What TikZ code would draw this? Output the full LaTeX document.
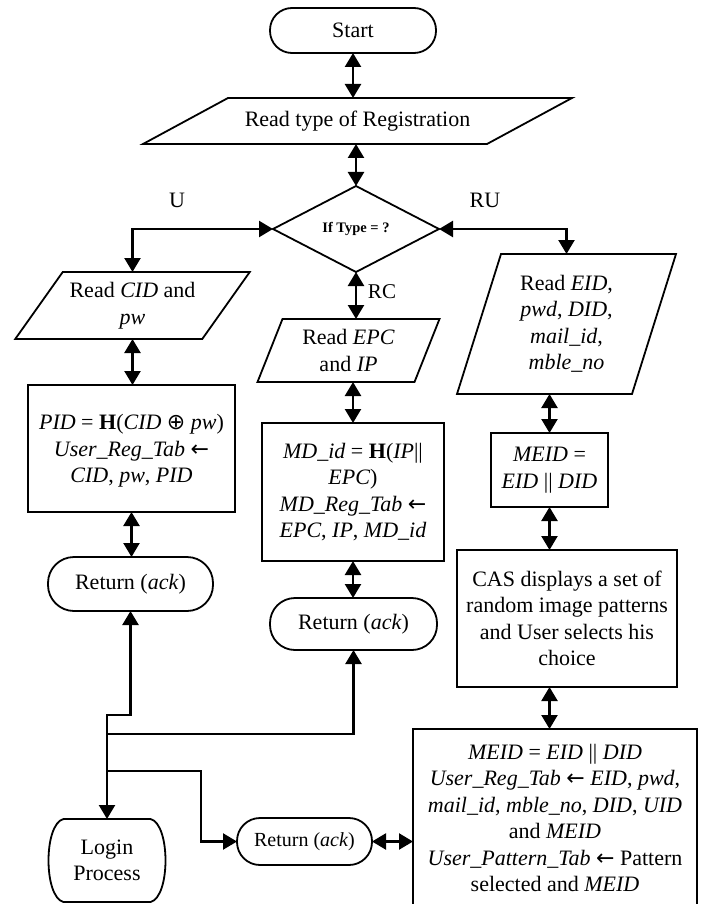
\documentclass[tikz,border=0pt]{standalone}
\usepackage{fontspec}
\setmainfont{Liberation Serif}
\newfontfamily\arrowfont{DejaVu Sans}
\usetikzlibrary{arrows.meta}

\tikzset{
  txt/.style={font=\fontsize{22}{26.5}\selectfont, align=center, inner sep=0pt, outer sep=0pt},
  outline/.style={draw, line width=1.8pt},
  procbox/.style={txt, outline, rectangle},
  termbox/.style={txt, outline, rectangle, rounded corners=#1},
  bare/.style={txt, rectangle},
  tip/.tip={Triangle[length=14pt,width=16pt]},
  conn/.style={line width=2.3pt, tip-tip},
  conn1/.style={line width=2.3pt, -tip},
  lbl/.style={font=\fontsize{22}{26}\selectfont, inner sep=0pt},
}

% parallelogram outline around a bare node: #1 node name, #2 half of the slant
\newcommand\paraoutline[2]{%
  \draw[outline] ([xshift=-#2pt]#1.south west) -- ([xshift=-#2pt]#1.south east)
    -- ([xshift=#2pt]#1.north east) -- ([xshift=#2pt]#1.north west) -- cycle;}

\newcommand\larr{{\arrowfont ←}}
\newcommand\xorop{{\arrowfont ⊕}}

\begin{document}
\begin{tikzpicture}[x=1pt, y=-1pt]
\useasboundingbox (0,0) rectangle (704,904);

% ---- top: start, input, decision
\node[termbox=22pt, minimum width=166pt, minimum height=45pt] (start) at (353,30.5) {Start};
\node[bare, minimum width=344pt, minimum height=46pt] (regtype) at (357.5,121) {Read type of Registration};
\paraoutline{regtype}{42.5}
\node[bare, minimum width=166pt, minimum height=86pt,
      font=\bfseries\fontsize{14.5}{17}\selectfont] (dec) at (356,229) {If Type = ?};
\draw[outline] (dec.north) -- (dec.east) -- (dec.south) -- (dec.west) -- cycle;

\node[lbl] (labU) at (177,200) {U};
\node[lbl] (labRU) at (485,200) {RU};
\node[lbl, font=\fontsize{21}{24}\selectfont] (labRC) at (382,292) {RC};

% ---- left column: user registration
\node[bare, minimum width=187pt, minimum height=67pt] (rcid) at (132.5,305.5) {Read \textit{CID} and\\\textit{pw}};
\paraoutline{rcid}{23.75}
\node[procbox, minimum width=207pt, minimum height=127pt, text depth=0pt] (pid) at (131.5,448.5)
  {\textit{PID} = \textbf{H}(\textit{CID} \xorop\ \textit{pw})\\
   \textit{User\_Reg\_Tab} \larr\\
   \textit{CID}, \textit{pw}, \textit{PID}};
\node[termbox=26pt, minimum width=165pt, minimum height=54pt] (ret1) at (130.5,584) {Return (\textit{ack})};

% ---- middle column: RC registration
\node[bare, minimum width=157pt, minimum height=63pt] (repc) at (348.5,350.5) {Read \textit{EPC}\\and \textit{IP}};
\paraoutline{repc}{12.5}
\node[procbox, minimum width=182pt, minimum height=138pt] (md) at (353,492)
  {\textit{MD\_id} = \textbf{H}(\textit{IP}||\\
   \textit{EPC})\\
   \textit{MD\_Reg\_Tab} \larr\\
   \textit{EPC}, \textit{IP}, \textit{MD\_id}};
\node[termbox=25pt, minimum width=167pt, minimum height=52pt] (ret2) at (353.5,624) {Return (\textit{ack})};

% ---- right column: RU registration
\node[bare, minimum width=175pt, minimum height=140pt] (reid) at (566.5,324)
  {Read \textit{EID},\\\textit{pwd}, \textit{DID},\\\textit{mail\_id},\\\textit{mble\_no}};
\paraoutline{reid}{22}
\node[procbox, minimum width=117pt, minimum height=74pt] (meid) at (549.5,470)
  {\textit{MEID} =\\\textit{EID} || \textit{DID}};
\node[procbox, minimum width=220pt, minimum height=137pt] (cas) at (567,618.5)
  {CAS displays a set of\\random image patterns\\and User selects his\\choice};
\node[procbox, minimum width=284pt, minimum height=178pt] (reg) at (555,818)
  {\textit{MEID} = \textit{EID} || \textit{DID}\\
   \textit{User\_Reg\_Tab} \larr\ \textit{EID}, \textit{pwd},\\
   \textit{mail\_id}, \textit{mble\_no}, \textit{DID}, \textit{UID}\\
   and \textit{MEID}\\
   \textit{User\_Pattern\_Tab} \larr\ Pattern\\
   selected and \textit{MEID}};

% ---- bottom: returns and login
\node[termbox=23pt, minimum width=135pt, minimum height=47pt,
      font=\fontsize{20}{24}\selectfont] (ret3) at (304.5,841.5) {Return (\textit{ack})};
\node[bare, minimum width=87pt, minimum height=83pt] (login) at (107,860.5) {Login\\Process};
\draw[outline] (login.north west) -- (login.north east)
  .. controls +(20,5) and +(20,-5) .. (login.south east)
  -- (login.south west)
  .. controls +(-20,-5) and +(-20,5) .. (login.north west) -- cycle;

% ---- connectors
\draw[conn] (start.south) -- (start.south |- regtype.north);
\draw[conn] (dec.north |- regtype.south) -- (dec.north);
\draw[conn] (dec.west) -| (rcid.north);
\draw[conn] (dec.east) -| (reid.north);
\draw[conn] (dec.south) -- (dec.south |- repc.north);

\draw[conn] (rcid.south) -- (rcid.south |- pid.north);
\draw[conn] (pid.south) -- (pid.south |- ret1.north);

\draw[conn] (md.north |- repc.south) -- (md.north);
\draw[conn] (md.south) -- (md.south |- ret2.north);

\draw[conn] (meid.north |- reid.south) -- (meid.north);
\draw[conn] (meid.south) -- (meid.south |- cas.north);
\draw[conn] (meid.south |- cas.south) -- (meid.south |- reg.north);
\draw[conn] (ret3.east) -- (ret3.east -| reg.west);

\coordinate (jA) at (107,715);
\coordinate (jB) at (107,734);
\coordinate (jC) at (107,771);
\coordinate (kC) at (201,771);
\draw[conn] (ret1.south) |- (jA) -- (login.north);
\draw[conn1] (jB) -| (ret2.south);
\draw[conn1] (jC) -- (kC) |- (ret3.west);
\end{tikzpicture}
\end{document}
